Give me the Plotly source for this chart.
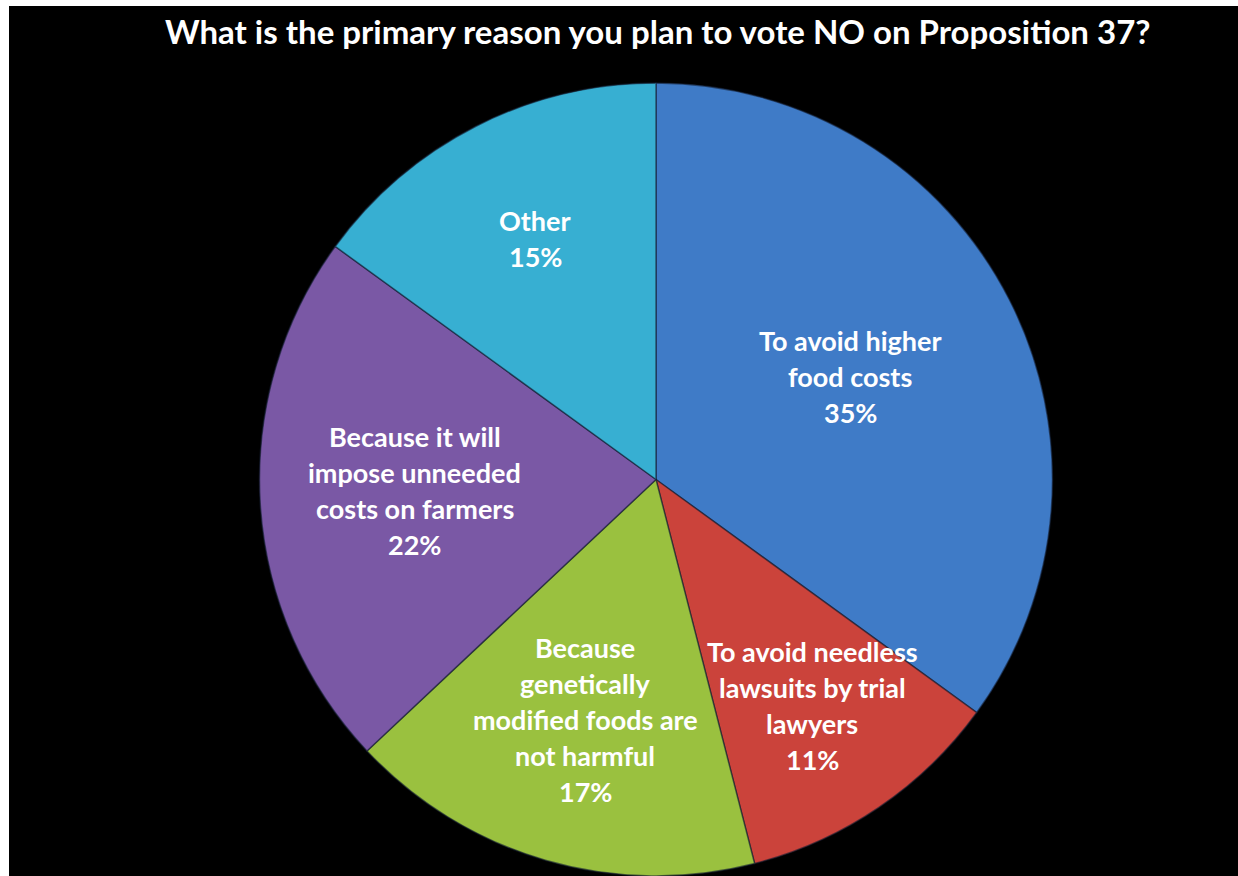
import math
import plotly.graph_objects as go

# Survey responses: primary reason for voting NO on Proposition 37
categories = [
    "To avoid higher food costs",
    "To avoid needless lawsuits by trial lawyers",
    "Because genetically modified foods are not harmful",
    "Because it will impose unneeded costs on farmers",
    "Other",
]
shares = [35, 11, 17, 22, 15]
label_lines = [
    ["To avoid higher", "food costs"],
    ["To avoid needless", "lawsuits by trial", "lawyers"],
    ["Because", "genetically", "modified foods are", "not harmful"],
    ["Because it will", "impose unneeded", "costs on farmers"],
    ["Other"],
]
colors = ["#3F7BC7", "#CB433B", "#9AC13F", "#7A58A5", "#37AFD2"]

W, H = 1238, 876
CX, CY, R = 656, 479.5, 396.5          # pie centre / radius in pixels
label_radius = [0.55, 0.70, 0.64, 0.61, 0.67]  # label distance as fraction of radius
LABEL_DY = -4
LINE_H = 36
FONT = "Lato"

fig = go.Figure()
fig.add_trace(go.Pie(
    labels=categories,
    values=shares,
    sort=False,
    direction="clockwise",
    rotation=0,
    textinfo="none",
    hoverinfo="label+percent",
    showlegend=False,
    marker=dict(colors=colors, line=dict(color="rgba(20,30,50,0.6)", width=1.5)),
    domain=dict(x=[(CX - R) / W, (CX + R) / W], y=[0, 2 * R / H]),
))

annotations = []
total = sum(shares)
cum = 0
for lines, v, rf in zip(label_lines, shares, label_radius):
    mid = (cum + v / 2) / total * 2 * math.pi
    cum += v
    px = CX + rf * R * math.sin(mid)
    py = CY - rf * R * math.cos(mid) + LABEL_DY
    all_lines = lines + [f"{v}%"]
    n = len(all_lines)
    for i, t in enumerate(all_lines):
        annotations.append(dict(
            x=px / W, y=1 - py / H, xref="paper", yref="paper",
            text=f"<b>{t}</b>", showarrow=False,
            xanchor="center", yanchor="middle",
            yshift=((n - 1) / 2 - i) * LINE_H,
            font=dict(family=FONT, size=27, color="white"),
        ))

annotations.append(dict(
    x=657 / W, y=1 - 31 / H, xref="paper", yref="paper",
    text="<b>What is the primary reason you plan to vote NO on Proposition 37?</b>",
    showarrow=False, xanchor="center", yanchor="middle",
    font=dict(family=FONT, size=33, color="white"),
))

fig.update_layout(
    width=W, height=H,
    margin=dict(l=0, r=0, t=0, b=0),
    paper_bgcolor="black",
    plot_bgcolor="black",
    annotations=annotations,
    shapes=[
        dict(type="rect", xref="paper", yref="paper", x0=0, x1=1, y0=1 - 6 / H, y1=1,
             fillcolor="white", line=dict(width=0), layer="above"),
        dict(type="rect", xref="paper", yref="paper", x0=0, x1=9 / W, y0=0, y1=1,
             fillcolor="white", line=dict(width=0), layer="above"),
    ],
)

fig.write_html("out.html")
